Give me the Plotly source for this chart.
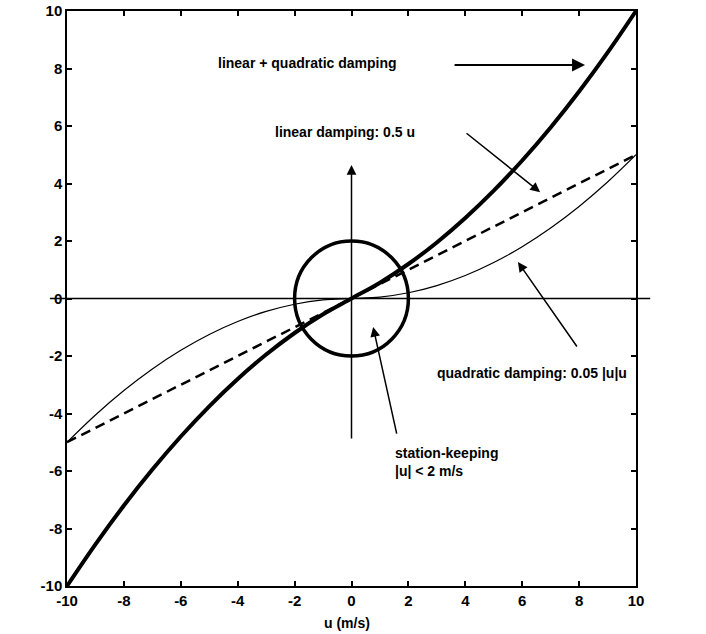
import plotly.graph_objects as go

# speed u (m/s)
u = [-10, -9, -8, -7, -6, -5, -4, -3, -2, -1, 0, 1, 2, 3, 4, 5, 6, 7, 8, 9, 10]
# linear damping 0.5 u
linear = [-5.0, -4.5, -4.0, -3.5, -3.0, -2.5, -2.0, -1.5, -1.0, -0.5, 0.0,
          0.5, 1.0, 1.5, 2.0, 2.5, 3.0, 3.5, 4.0, 4.5, 5.0]
# quadratic damping 0.05 |u|u
quadratic = [-5.0, -4.05, -3.2, -2.45, -1.8, -1.25, -0.8, -0.45, -0.2, -0.05, 0.0,
             0.05, 0.2, 0.45, 0.8, 1.25, 1.8, 2.45, 3.2, 4.05, 5.0]
# linear + quadratic damping
combined = [-10.0, -8.55, -7.2, -5.95, -4.8, -3.75, -2.8, -1.95, -1.2, -0.55, 0.0,
            0.55, 1.2, 1.95, 2.8, 3.75, 4.8, 5.95, 7.2, 8.55, 10.0]

tick_vals = [-10, -8, -6, -4, -2, 0, 2, 4, 6, 8, 10]
tick_text = ["-10", "-8", "-6", "-4", "-2", "0", "2", "4", "6", "8", "10"]
station_limit = 2  # |u| < 2 m/s

FONT = "Liberation Sans, Arial, sans-serif"

fig = go.Figure()
fig.add_trace(go.Scatter(x=u, y=quadratic, mode="lines", line_shape="spline",
                         line=dict(color="black", width=1.2), showlegend=False))
fig.add_trace(go.Scatter(x=u, y=linear, mode="lines",
                         line=dict(color="black", width=2.5, dash="10px,6px"), showlegend=False))
fig.add_trace(go.Scatter(x=u, y=combined, mode="lines", line_shape="spline",
                         line=dict(color="black", width=4), showlegend=False))

shapes = [
    dict(type="circle", xref="x", yref="y",
         x0=-station_limit, y0=-station_limit, x1=station_limit, y1=station_limit,
         line=dict(color="black", width=3.5)),
    dict(type="line", xref="paper", yref="y", x0=-0.03, x1=1.025, y0=0, y1=0,
         line=dict(color="black", width=1.5)),
]

def arrow(tail, tip, w=1.5):
    return dict(x=tip[0], y=tip[1], ax=tail[0], ay=tail[1], xref="x", yref="y",
                axref="x", ayref="y", text="", showarrow=True, arrowhead=2,
                arrowsize=1.3, arrowwidth=w, arrowcolor="black")

tfont = dict(family=FONT, size=14, color="black", weight="bold")
annotations = [
    arrow((3.57, 8.12), (8.21, 8.12), 2),
    arrow((3.99, 5.79), (6.63, 3.70)),
    arrow((0, -4.92), (0, 4.64)),
    arrow((7.96, -1.72), (5.85, 1.27)),
    arrow((1.60, -4.75), (0.76, -0.99)),
    dict(x=-1.55, y=8.19, xref="x", yref="y", text="linear + quadratic damping",
         showarrow=False, font=tfont),
    dict(x=-0.23, y=5.79, xref="x", yref="y", text="linear damping: 0.5 u",
         showarrow=False, font=tfont),
    dict(x=6.34, y=-2.59, xref="x", yref="y", text="quadratic damping: 0.05 |u|u",
         showarrow=False, font=tfont),
    dict(x=1.46, y=-5.69, xref="x", yref="y", text="station-keeping<br>|u| < 2 m/s",
         showarrow=False, xanchor="left", align="left", font=tfont),
    dict(x=-0.15, y=-0.0643, xref="x", yref="paper", text="u (m/s)",
         showarrow=False, yanchor="middle", font=tfont),
]

axis_common = dict(showgrid=False, zeroline=False, showline=True, linecolor="black",
                   linewidth=1.5, mirror="ticks", ticks="inside", ticklen=5,
                   tickcolor="black", tickwidth=1.5, tickvals=tick_vals, ticktext=tick_text,
                   automargin=False,
                   tickfont=dict(family=FONT, size=15, color="black", weight="bold"))

fig.update_layout(
    width=706, height=634,
    margin=dict(l=67, r=70, t=11, b=48, autoexpand=False),
    plot_bgcolor="white", paper_bgcolor="white",
    xaxis=dict(range=[-10, 10], **axis_common),
    yaxis=dict(range=[-10, 10], **axis_common),
    shapes=shapes, annotations=annotations,
)

fig.write_html("out.html", config={"displayModeBar": False},
               post_script="document.body.style.margin='0';document.body.style.overflow='hidden';")
